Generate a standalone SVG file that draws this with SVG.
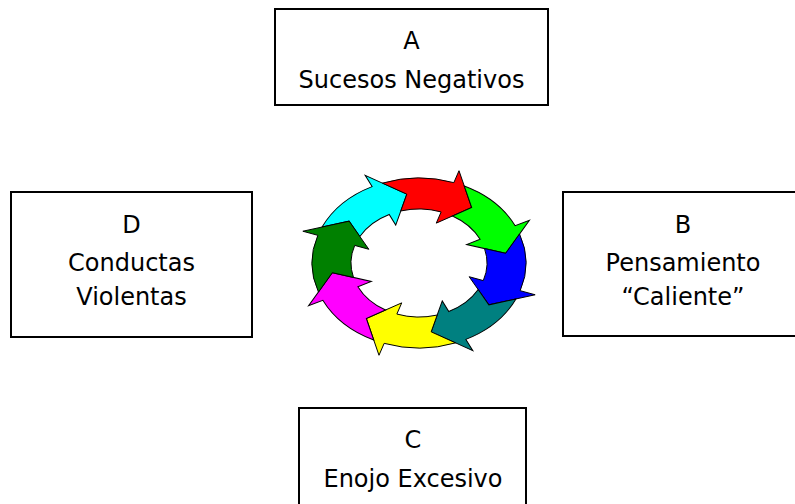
<svg xmlns="http://www.w3.org/2000/svg" xmlns:xlink="http://www.w3.org/1999/xlink" width="795" height="504" viewBox="0 0 795 504">
<style>
.box{fill:#fff;stroke:#000;stroke-width:2}
.t{font-family:"DejaVu Sans","Liberation Sans",sans-serif;font-size:24px;fill:#000;text-anchor:middle}
</style>
<defs>
<path id="arr" d="M0.5449 -0.8385 A1 1 0 0 1 0.9511 -0.3090 L1.0919 -0.3547 L0.8178 0 L0.4717 -0.1533 L0.6044 -0.1964 A0.6355 0.6355 0 0 0 0.3867 -0.5043 L0.5783 -0.5783 Z" stroke="#000" stroke-width="1" stroke-linejoin="miter" vector-effect="non-scaling-stroke"/>
</defs>
<rect width="795" height="504" fill="#fff"/>
<g id="cycle">
<use xlink:href="#arr" fill="#00FFFF" transform="translate(419 263) scale(107 85) rotate(-98)"/>
<use xlink:href="#arr" fill="#FF0000" transform="translate(419 263) scale(107 85) rotate(-53)"/>
<use xlink:href="#arr" fill="#00FF00" transform="translate(419 263) scale(107 85) rotate(-8)"/>
<use xlink:href="#arr" fill="#0000FF" transform="translate(419 263) scale(107 85) rotate(37)"/>
<use xlink:href="#arr" fill="#008080" transform="translate(419 263) scale(107 85) rotate(82)"/>
<use xlink:href="#arr" fill="#FFFF00" transform="translate(419 263) scale(107 85) rotate(127)"/>
<use xlink:href="#arr" fill="#FF00FF" transform="translate(419 263) scale(107 85) rotate(172)"/>
<use xlink:href="#arr" fill="#008000" transform="translate(419 263) scale(107 85) rotate(217)"/>
</g>
<g id="nodeA">
<rect class="box" x="275" y="9" width="273" height="96"/>
<text class="t" x="411.5" y="49">A</text>
<text class="t" x="411.5" y="88">Sucesos Negativos</text>
</g>
<g id="nodeB">
<rect class="box" x="563" y="192" width="240" height="144"/>
<text class="t" x="683" y="233">B</text>
<text class="t" x="683" y="270.5">Pensamiento</text>
<text class="t" x="683" y="304.5">“Caliente”</text>
</g>
<g id="nodeC">
<rect class="box" x="299" y="408" width="227" height="110"/>
<text class="t" x="413" y="448">C</text>
<text class="t" x="413" y="487">Enojo Excesivo</text>
</g>
<g id="nodeD">
<rect class="box" x="11" y="192" width="241" height="145"/>
<text class="t" x="131.5" y="233">D</text>
<text class="t" x="131.5" y="270.5">Conductas</text>
<text class="t" x="131.5" y="304.5">Violentas</text>
</g>
</svg>
